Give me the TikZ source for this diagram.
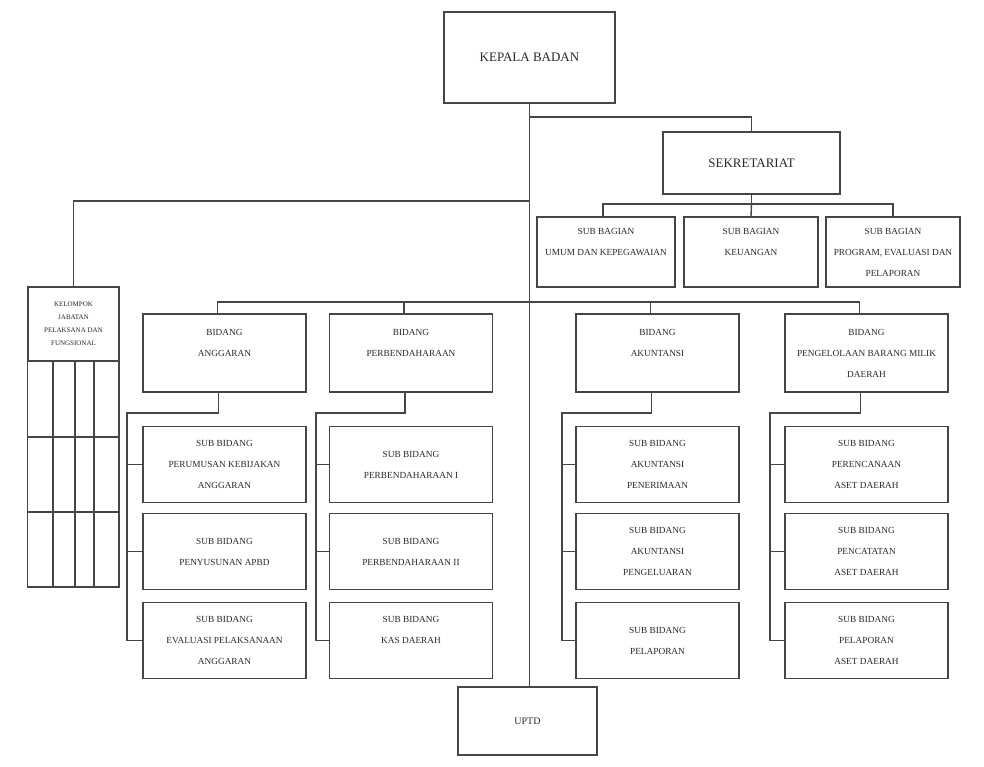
\documentclass[tikz,border=0pt]{standalone}
\usepackage{fontspec}
\setmainfont{Liberation Serif}
\usetikzlibrary{positioning,calc}
\definecolor{lineGray}{RGB}{70,70,70}
\definecolor{textGray}{RGB}{40,40,40}

\begin{document}
\begin{tikzpicture}[x=1pt,y=-1pt,
    link/.style={draw=lineGray, line width=1.4pt},
    unit/.style={draw=lineGray, line width=1.5pt, inner sep=0pt, align=center, text=textGray,
        font=\fontsize{9.3}{21}\selectfont},
    head/.style={unit, font=\fontsize{13}{16}\selectfont},
    subbag/.style={unit, minimum width=136pt, minimum height=70pt},
    bidang/.style={unit, minimum width=163pt, minimum height=78pt},
    subbid/.style={unit, minimum width=163pt, minimum height=76pt}]
    \useasboundingbox (0,0) rectangle (984,766);

    % Kepala dan sekretariat
    \node[head, minimum width=171pt, minimum height=91pt] (kepala) at (529.5,57.5) {KEPALA BADAN};
    \node[head, minimum width=177pt, minimum height=62pt] (sek) at (751.5,163) {SEKRETARIAT};

    % Sub bagian
    \node[subbag, minimum width=138pt] (sb1) at (606,252) {SUB BAGIAN\\UMUM DAN KEPEGAWAIAN\\~};
    \node[subbag, minimum width=134pt] (sb2) at (751,252) {SUB BAGIAN\\KEUANGAN\\~};
    \node[subbag, minimum width=134pt] (sb3) at (893,252) {SUB BAGIAN\\PROGRAM, EVALUASI DAN\\PELAPORAN};

    % Kelompok jabatan
    \node[unit, minimum width=91pt, minimum height=74pt, font=\fontsize{7}{13}\selectfont] (kel) at (73.5,324)
        {KELOMPOK\\JABATAN\\PELAKSANA DAN\\FUNGSIONAL};
    \draw[link] (kel.south west) rectangle (119,587);
    \foreach \x in {53,75,94} {
        \draw[link] (\x,361) -- (\x,587);
    }
    \foreach \y in {437,512} {
        \draw[link] (28,\y) -- (119,\y);
    }

    % Bidang
    \node[bidang] (angg) at (224.5,353) {BIDANG\\ANGGARAN\\~};
    \node[bidang] (perb) at (411,353) {BIDANG\\PERBENDAHARAAN\\~};
    \node[bidang] (akun) at (657.5,353) {BIDANG\\AKUNTANSI\\~};
    \node[bidang] (pkl) at (866.5,353) {BIDANG\\PENGELOLAAN BARANG MILIK\\DAERAH};

    % Sub bidang anggaran
    \node[subbid] (angg1) at (224.5,464.5) {SUB BIDANG\\PERUMUSAN KEBIJAKAN\\ANGGARAN};
    \node[subbid] (angg2) at (224.5,551.5) {SUB BIDANG\\PENYUSUNAN APBD};
    \node[subbid] (angg3) at (224.5,640.5) {SUB BIDANG\\EVALUASI PELAKSANAAN\\ANGGARAN};
    % Sub bidang perbendaharaan
    \node[subbid] (perb1) at (411,464.5) {SUB BIDANG\\PERBENDAHARAAN I};
    \node[subbid] (perb2) at (411,551.5) {SUB BIDANG\\PERBENDAHARAAN II};
    \node[subbid] (perb3) at (411,640.5) {SUB BIDANG\\KAS DAERAH\\~};
    % Sub bidang akuntansi
    \node[subbid] (akun1) at (657.5,464.5) {SUB BIDANG\\AKUNTANSI\\PENERIMAAN};
    \node[subbid] (akun2) at (657.5,551.5) {SUB BIDANG\\AKUNTANSI\\PENGELUARAN};
    \node[subbid] (akun3) at (657.5,640.5) {SUB BIDANG\\PELAPORAN};
    % Sub bidang pengelolaan barang
    \node[subbid] (pkl1) at (866.5,464.5) {SUB BIDANG\\PERENCANAAN\\ASET DAERAH};
    \node[subbid] (pkl2) at (866.5,551.5) {SUB BIDANG\\PENCATATAN\\ASET DAERAH};
    \node[subbid] (pkl3) at (866.5,640.5) {SUB BIDANG\\PELAPORAN\\ASET DAERAH};

    % UPTD
    \node[unit, minimum width=139pt, minimum height=68pt, font=\fontsize{10}{12}\selectfont] (uptd) at (527.5,721) {UPTD};

    % Garis utama
    \coordinate (jSek) at (529.5,117);
    \coordinate (jKel) at (529.5,201);
    \coordinate (jBid) at (529.5,302);
    \coordinate (busSek) at (751.5,204);
    \draw[link] (kepala.south) -- (kepala.south |- uptd.north);
    \draw[link] (jSek) -| (sek.north);
    \draw[link] (jKel) -| (kel.north);

    % Ke sub bagian
    \draw[link] (sek.south) -- (busSek);
    \draw[link] ([xshift=-3pt]sb1.north) |- (busSek) -| (sb3.north);
    \draw[link] (busSek) -- (sb2.north);

    % Ke bidang
    \foreach \b in {angg,perb,akun,pkl} {
        \coordinate (\b-top) at ([xshift=-7pt]\b.north);
        \coordinate (\b-bot) at ([xshift=-6pt]\b.south);
    }
    \draw[link] (angg-top) |- (jBid) -| (pkl-top);
    \draw[link] (perb-top) -- (perb-top |- jBid);
    \draw[link] (akun-top) -- (akun-top |- jBid);

    % Ke sub bidang
    \foreach \b/\bx in {angg/127,perb/316,akun/562,pkl/770} {
        \coordinate (\b-bus) at (\bx,413);
        \draw[link] (\b-bot) |- (\b-bus) |- (\b3.west);
        \draw[link] (\b-bus) |- (\b1.west);
        \draw[link] (\b-bus) |- (\b2.west);
    }
\end{tikzpicture}
\end{document}
